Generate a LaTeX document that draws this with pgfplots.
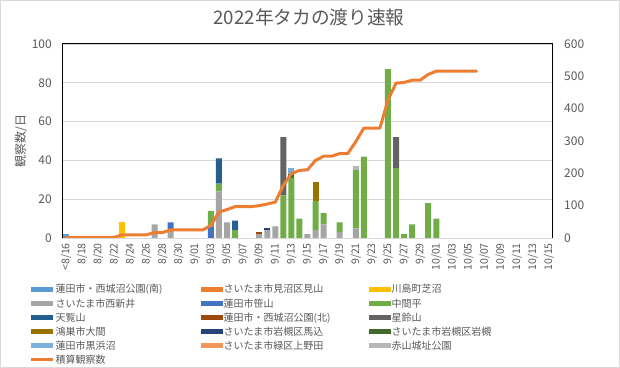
\documentclass[border=0pt]{standalone}
\usepackage{fontspec}
\setmainfont{Noto Sans CJK JP}
\usepackage{pgfplots}
\usepackage{pgfplotstable}
\pgfplotsset{compat=1.18}
\definecolor{cA}{HTML}{5B9BD5}
\definecolor{cB}{HTML}{ED7D31}
\definecolor{cC}{HTML}{FFC000}
\definecolor{cD}{HTML}{A5A5A5}
\definecolor{cE}{HTML}{4472C4}
\definecolor{cF}{HTML}{70AD47}
\definecolor{cG}{HTML}{255E91}
\definecolor{cH}{HTML}{9E480E}
\definecolor{cI}{HTML}{636363}
\definecolor{cJ}{HTML}{997300}
\definecolor{cK}{HTML}{264478}
\definecolor{cL}{HTML}{43682B}
\definecolor{cM}{HTML}{7CAFDD}
\definecolor{cN}{HTML}{F1975A}
\definecolor{cO}{HTML}{B7B7B7}
\definecolor{cLine}{HTML}{ED7D31}
\definecolor{tickc}{HTML}{595959}
\definecolor{gridc}{HTML}{D9D9D9}

\pgfplotstableread{
x s1 s2 s3 s4 s5 s6 s7 s8 s9 s10 s11 s12 s13 s14 s15 cum
0 2 0 0 0 0 0 0 0 0 0 0 0 0 0 0 2
1 0 0 0 0 0 0 0 0 0 0 0 0 0 0 0 2
2 0 0 0 0 0 0 0 0 0 0 0 0 0 0 0 2
3 0 0 0 0 0 0 0 0 0 0 0 0 0 0 0 2
4 0 0 0 0 0 0 0 0 0 0 0 0 0 0 0 2
5 0 0 0 0 0 0 0 0 0 0 0 0 0 0 0 2
6 0 0 0 0 0 0 0 0 0 0 0 0 0 0 0 2
7 0 0 8 0 0 0 0 0 0 0 0 0 0 0 0 10
8 0 0 0 0 0 0 0 0 0 0 0 0 0 0 0 10
9 0 0 0 0 0 0 0 0 0 0 0 0 0 0 0 10
10 0 0 0 0 0 0 0 0 0 0 0 0 0 0 0 10
11 0 0 0 7 0 0 0 0 0 0 0 0 0 0 0 17
12 0 0 0 0 0 0 0 0 0 0 0 0 0 0 0 17
13 0 0 0 4 4 0 0 0 0 0 0 0 0 0 0 25
14 0 0 0 0 0 0 0 0 0 0 0 0 0 0 0 25
15 0 0 0 0 0 0 0 0 0 0 0 0 0 0 0 25
16 0 0 0 0 0 0 0 0 0 0 0 0 0 0 0 25
17 0 0 0 0 0 0 0 0 0 0 0 0 0 0 0 25
18 0 0 0 0 6 8 0 0 0 0 0 0 0 0 0 39
19 0 0 0 24 0 4 13 0 0 0 0 0 0 0 0 80
20 0 0 0 8 0 0 0 0 0 0 0 0 0 0 0 88
21 0 0 0 0 0 4 5 0 0 0 0 0 0 0 0 97
22 0 0 0 0 0 0 0 0 0 0 0 0 0 0 0 97
23 0 0 0 0 0 0 0 0 0 0 0 0 0 0 0 97
24 0 0 0 2 0 0 0 1 0 0 0 0 0 0 0 100
25 0 0 0 4 0 0 0 0 0 0 1 0 0 0 0 105
26 0 0 0 6 0 0 0 0 0 0 0 0 0 0 0 111
27 0 0 0 0 0 22 0 0 30 0 0 0 0 0 0 163
28 0 0 0 0 0 31 0 0 0 0 0 2 3 0 0 199
29 0 0 0 0 0 10 0 0 0 0 0 0 0 0 0 209
30 0 0 0 2 0 0 0 0 0 0 0 0 0 0 0 211
31 0 0 0 4 0 15 0 0 0 10 0 0 0 0 0 240
32 0 0 0 7 0 6 0 0 0 0 0 0 0 0 0 253
33 0 0 0 0 0 0 0 0 0 0 0 0 0 0 0 253
34 0 0 0 3 0 5 0 0 0 0 0 0 0 0 0 261
35 0 0 0 0 0 0 0 0 0 0 0 0 0 0 0 261
36 0 0 0 5 0 30 0 0 0 0 0 0 0 0 2 298
37 0 0 0 0 0 42 0 0 0 0 0 0 0 0 0 340
38 0 0 0 0 0 0 0 0 0 0 0 0 0 0 0 340
39 0 0 0 0 0 0 0 0 0 0 0 0 0 0 0 340
40 0 0 0 0 0 87 0 0 0 0 0 0 0 0 0 427
41 0 0 0 0 0 36 0 0 16 0 0 0 0 0 0 479
42 0 0 0 0 0 2 0 0 0 0 0 0 0 0 0 481
43 0 0 0 0 0 7 0 0 0 0 0 0 0 0 0 488
44 0 0 0 0 0 0 0 0 0 0 0 0 0 0 0 488
45 0 0 0 0 0 18 0 0 0 0 0 0 0 0 0 506
46 0 0 0 0 0 10 0 0 0 0 0 0 0 0 0 516
47 0 0 0 0 0 0 0 0 0 0 0 0 0 0 0 516
48 0 0 0 0 0 0 0 0 0 0 0 0 0 0 0 516
49 0 0 0 0 0 0 0 0 0 0 0 0 0 0 0 516
50 0 0 0 0 0 0 0 0 0 0 0 0 0 0 0 516
51 0 0 0 0 0 0 0 0 0 0 0 0 0 0 0 516
52 0 0 0 0 0 0 0 0 0 0 0 0 0 0 0 nan
53 0 0 0 0 0 0 0 0 0 0 0 0 0 0 0 nan
54 0 0 0 0 0 0 0 0 0 0 0 0 0 0 0 nan
55 0 0 0 0 0 0 0 0 0 0 0 0 0 0 0 nan
56 0 0 0 0 0 0 0 0 0 0 0 0 0 0 0 nan
57 0 0 0 0 0 0 0 0 0 0 0 0 0 0 0 nan
58 0 0 0 0 0 0 0 0 0 0 0 0 0 0 0 nan
59 0 0 0 0 0 0 0 0 0 0 0 0 0 0 0 nan
60 0 0 0 0 0 0 0 0 0 0 0 0 0 0 0 nan
}\data

\pgfplotsset{
  bl/.style={fill=#1, draw=none,
    legend image code/.code={\fill[fill=#1] (0bp,1.3bp) rectangle (22bp,6.3bp);}},
}

\begin{document}
\begin{tikzpicture}
\path[use as bounding box] (0bp,0bp) rectangle (620bp,368bp);
\draw[gridc, line width=0.75bp] (0.5bp,0.5bp) rectangle (619.5bp,367.5bp);
\begin{axis}[
  at={(62bp,130bp)}, anchor=south west,
  width=491bp, height=194bp, scale only axis,
  ybar stacked, bar width=6bp,
  xmin=-0.5, xmax=60.5, ymin=0, ymax=100,
  enlargelimits=false,
  xtick={0,2,...,60},
  xticklabels={<8/16,8/18,8/20,8/22,8/24,8/26,8/28,8/30,9/01,9/03,9/05,9/07,9/09,9/11,9/13,9/15,9/17,9/19,9/21,9/23,9/25,9/27,9/29,10/01,10/03,10/05,10/07,10/09,10/11,10/13,10/15},
  ytick={0,20,...,100},
  ymajorgrids, grid style={gridc, line width=0.75bp},
  axis line style={draw=none}, major tick length=0pt,
  /pgf/number format/assume math mode=true,
  tick label style={color=tickc, font=\fontsize{12bp}{14bp}\selectfont},
  xticklabel style={rotate=90, anchor=east, inner sep=0pt, font=\fontsize{10.5bp}{12bp}\selectfont},
  yticklabel style={inner sep=0pt},
  xticklabel shift=5bp, yticklabel shift=10bp,
  ylabel={観察数/日},
  ylabel style={at={(axis description cs:-0.0835,0.5)}, anchor=center, color=tickc, font=\fontsize{12bp}{14bp}\selectfont},
  title={2022年タカの渡り速報},
  title style={at={(axis description cs:0.503,1.108)}, anchor=center, color=tickc, font=\fontsize{18.67bp}{20bp}\selectfont},
  legend columns=3,
  legend style={at={(axis description cs:-0.0652,-0.2309)}, anchor=north west,
    draw=none, fill=none, inner sep=0pt, column sep=1bp, row sep=0pt,
    nodes={inner sep=0pt, anchor=base west, text height=10bp, text depth=4.1bp,
      text=tickc, font=\fontsize{10bp}{12bp}\selectfont}},
]
\addplot[bl=cA] table[x=x,y=s1]{\data};
\addlegendentry{\makebox[144bp][l]{蓮田市・西城沼公園(南)}}
\addplot[bl=cB] table[x=x,y=s2]{\data};
\addlegendentry{\makebox[144bp][l]{さいたま市見沼区見山}}
\addplot[bl=cC] table[x=x,y=s3]{\data};
\addlegendentry{\makebox[144bp][l]{川島町芝沼}}
\addplot[bl=cD] table[x=x,y=s4]{\data};
\addlegendentry{\makebox[144bp][l]{さいたま市西新井}}
\addplot[bl=cE] table[x=x,y=s5]{\data};
\addlegendentry{\makebox[144bp][l]{蓮田市笹山}}
\addplot[bl=cF] table[x=x,y=s6]{\data};
\addlegendentry{\makebox[144bp][l]{中間平}}
\addplot[bl=cG] table[x=x,y=s7]{\data};
\addlegendentry{\makebox[144bp][l]{天覧山}}
\addplot[bl=cH] table[x=x,y=s8]{\data};
\addlegendentry{\makebox[144bp][l]{蓮田市・西城沼公園(北)}}
\addplot[bl=cI] table[x=x,y=s9]{\data};
\addlegendentry{\makebox[144bp][l]{星鈴山}}
\addplot[bl=cJ] table[x=x,y=s10]{\data};
\addlegendentry{\makebox[144bp][l]{鴻巣市大間}}
\addplot[bl=cK] table[x=x,y=s11]{\data};
\addlegendentry{\makebox[144bp][l]{さいたま市岩槻区馬込}}
\addplot[bl=cL] table[x=x,y=s12]{\data};
\addlegendentry{\makebox[144bp][l]{さいたま市岩槻区岩槻}}
\addplot[bl=cM] table[x=x,y=s13]{\data};
\addlegendentry{\makebox[144bp][l]{蓮田市黒浜沼}}
\addplot[bl=cN] table[x=x,y=s14]{\data};
\addlegendentry{\makebox[144bp][l]{さいたま市緑区上野田}}
\addplot[bl=cO] table[x=x,y=s15]{\data};
\addlegendentry{\makebox[144bp][l]{赤山城址公園}}
\addlegendimage{legend image code/.code={\draw[cLine, line width=2.5bp] (0bp,3.8bp) -- (22bp,3.8bp);}}
\addlegendentry{\makebox[144bp][l]{積算観察数}}
\end{axis}
\begin{axis}[
  at={(62bp,130bp)}, anchor=south west,
  width=491bp, height=194bp, scale only axis,
  xmin=-0.5, xmax=60.5, ymin=0, ymax=600,
  enlargelimits=false, clip=false,
  hide x axis, axis y line*=right,
  axis line style={draw=none}, major tick length=0pt,
  ytick={0,100,...,600},
  /pgf/number format/assume math mode=true,
  yticklabel style={inner sep=0pt, color=tickc, font=\fontsize{12bp}{14bp}\selectfont},
  yticklabel shift=11bp,
]
\addplot[color=cLine, line width=3bp, line join=round, line cap=round, mark=none] table[x=x,y=cum]{\data};
\draw[black, line width=1bp] (rel axis cs:0,0) -- (rel axis cs:0,1) -- (rel axis cs:1,1) -- (rel axis cs:1,0);
\draw[gridc, line width=0.75bp] (rel axis cs:0,0) -- (rel axis cs:1,0);
\end{axis}
\end{tikzpicture}
\end{document}
